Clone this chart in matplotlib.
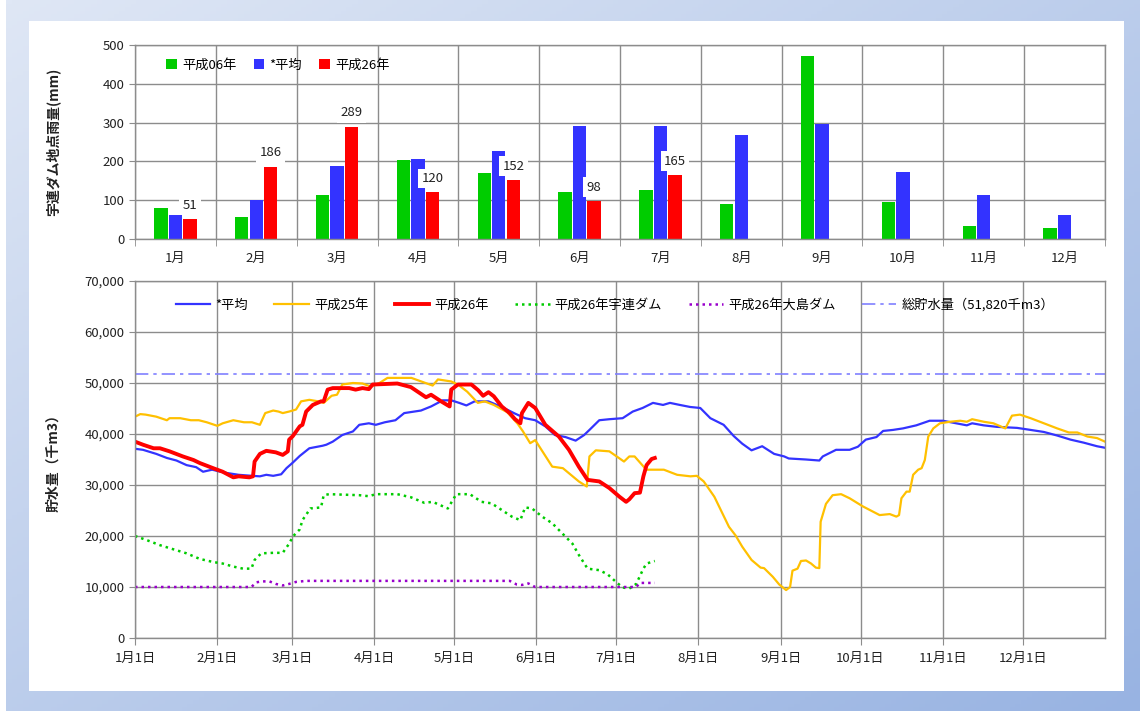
"""Uren dam: monthly rainfall (bars) and reservoir storage (lines) -> out.png"""

import matplotlib
matplotlib.use("Agg")
import matplotlib.pyplot as plt
import numpy as np
from matplotlib.patches import Rectangle
from matplotlib.ticker import FuncFormatter

plt.rcParams.update({"font.family": ["Noto Sans CJK JP", "DejaVu Sans"],
                     "axes.unicode_minus": False})

# ---- rainfall (mm) per month ----
MONTHS = ["1月", "2月", "3月", "4月", "5月", "6月", "7月", "8月", "9月", "10月", "11月", "12月"]
RAIN_H06 = [80, 56, 114, 203, 171, 121, 126, 90, 472, 95, 34, 29]
RAIN_AVG = [61, 100, 188, 207, 226, 291, 291, 269, 297, 172, 114, 62]
RAIN_H26 = [51, 186, 289, 120, 152, 98, 165]

# ---- storage (thousand m3), x = day of year (Jan 1 = 0) ----
AVG_DAY = [0, 3, 8, 12, 15.6, 19.4, 23, 25.6, 29, 34, 39, 44, 47, 49.4, 52, 55, 57, 59.4, 62, 65.6,
           70.6, 72, 74.4, 78, 82, 84.4, 88, 90.6, 94, 98, 101.3, 107.6, 111.4, 115.8, 119, 122,
           124.7, 127.8, 133, 138, 143, 146.8, 150.6, 154.4, 158, 162, 165.8, 169, 171, 174.7,
           178.5, 183.5, 187.3, 191, 194.9, 198.7, 201.3, 205, 208.9, 212.7, 216.5, 221.5, 225.3,
           228.5, 232, 236, 240.5, 244.3, 246, 252.5, 257.5, 258.8, 263.8, 268.9, 272, 275, 279,
           281.5, 285.2, 289, 294, 299, 304, 309, 313, 315, 319.3, 324.3, 331.9, 337, 342, 347,
           352, 357, 362, 365]
AVG_VAL = [37100, 36900, 36100, 35300, 34800, 33900, 33500, 32600, 33000, 32400, 32000, 31800,
           31700, 32000, 31800, 32100, 33300, 34400, 35700, 37200, 37700, 37900, 38500, 39800,
           40500, 41800, 42100, 41800, 42300, 42700, 44100, 44600, 45400, 46600, 46600, 46100,
           45600, 46400, 46400, 45300, 44000, 43100, 42700, 41500, 39800, 39400, 38700, 39800,
           40800, 42700, 42900, 43100, 44400, 45100, 46100, 45700, 46100, 45700, 45300, 45100,
           43100, 41800, 39600, 38100, 36800, 37600, 36100, 35600, 35200, 35000, 34800, 35600,
           36900, 36900, 37500, 38900, 39400, 40600, 40800, 41100, 41700, 42600, 42600, 42100,
           41700, 42100, 41700, 41400, 41200, 40800, 40400, 39700, 38900, 38300, 37600, 37300]

H25_DAY = [0, 2, 4, 8, 12, 13, 17, 21, 24, 27, 31, 33, 37, 41, 44, 47, 49, 52, 54, 55.6, 58, 60.6,
           62.5, 65.6, 69, 71, 74, 76, 78, 82, 85.6, 88.7, 92, 95, 104, 112, 114, 119, 121.5, 125,
           129, 131.6, 135, 140, 144, 146, 148.7, 150.6, 157, 161, 167, 170, 171, 173.4, 178.5,
           184, 186, 188, 192.4, 199, 204, 209, 211.4, 214, 218, 223.5, 226, 228.5, 232, 235.4,
           236.7, 240, 242.4, 245, 246.5, 247.4, 249.3, 250.6, 252.5, 254.4, 256.2, 257.5, 258,
           260, 262.5, 265.7, 268.9, 273.9, 280.2, 284, 286.5, 287.5, 288.4, 290.3, 291.5, 292.8,
           294.7, 296, 297.2, 298.5, 300.4, 302.9, 306.7, 310.5, 313, 315, 319.4, 323, 327.5, 330,
           333, 337, 342, 347, 351.4, 354.6, 358.4, 362, 365]
H25_VAL = [43400, 43900, 43800, 43400, 42700, 43100, 43100, 42700, 42700, 42300, 41600, 42100,
           42700, 42300, 42300, 41800, 44100, 44600, 44400, 44100, 44400, 44800, 46400, 46700,
           46400, 46100, 47500, 47700, 49700, 50000, 49900, 49300, 50000, 51000, 51000, 49500,
           50700, 50300, 49700, 48300, 46100, 46400, 45700, 44300, 42000, 40500, 38200, 38800,
           33600, 33300, 30700, 29700, 35600, 36800, 36600, 34600, 35600, 35600, 33000, 33000,
           32000, 31700, 31800, 30700, 27700, 21800, 20100, 17900, 15300, 13800, 13700, 12000,
           10500, 9400, 10000, 13200, 13600, 15100, 15200, 14600, 13800, 13700, 22800, 26300,
           28000, 28200, 27400, 25800, 24100, 24300, 23800, 24100, 27400, 28700, 28700, 32000,
           33000, 33300, 34900, 39500, 41100, 42100, 42400, 42600, 42400, 42900, 42400, 42100,
           41100, 43600, 43800, 43100, 42100, 41100, 40300, 40300, 39500, 39200, 38500]

H26_DAY = [0, 3, 7, 9.4, 13, 18, 22, 24.4, 29.4, 33, 37, 39, 43, 44.4, 45, 47, 49.4, 53, 55.6,
           57.5, 58, 59.4, 62, 63, 64.4, 66.9, 70, 71, 72.5, 74.4, 80.6, 83, 85.6, 88, 89.4, 98.7,
           103.8, 109.5, 111.4, 115.2, 118.4, 119, 121.5, 126.6, 129.1, 131, 133, 135, 138, 141,
           143, 145, 145.6, 148, 150.6, 154.4, 159.5, 163.3, 167, 170.3, 174.7, 178.5, 182.3,
           184.8, 186, 188, 190, 191.3, 192.5, 194.4, 195.6]
H26_VAL = [38500, 37900, 37200, 37200, 36600, 35600, 34900, 34300, 33300, 32600, 31500, 31700,
           31500, 31700, 34600, 36100, 36700, 36400, 35900, 36600, 38900, 39600, 41500, 41800,
           44400, 45700, 46400, 46400, 48700, 49000, 49000, 48700, 49000, 48800, 49700, 49900,
           49200, 47200, 47700, 46400, 45400, 48700, 49700, 49700, 48600, 47500, 48200, 47400,
           45400, 44100, 42900, 42100, 44100, 46100, 45100, 41800, 39500, 36900, 33600, 31000,
           30700, 29400, 27700, 26700, 27200, 28400, 28500, 31700, 33900, 35100, 35300]

UREN_DAY = [0, 4.4, 9.4, 14.4, 19.4, 24.4, 29.4, 33, 37, 40.6, 43.8, 45, 47.5, 52, 55.6, 58, 59.4,
            62, 63, 66, 70, 71, 73, 84.4, 88, 90.6, 98.7, 103.8, 108.9, 112, 117.7, 120.9, 126,
            130.4, 134.2, 138, 141.8, 145, 146.8, 149.4, 153.2, 157, 160.8, 164.6, 167, 170.3,
            174.7, 177.8, 181, 183.5, 186, 188.6, 191.3, 192.5, 195.6]
UREN_VAL = [20000, 19200, 18200, 17400, 16600, 15500, 14900, 14600, 14000, 13600, 13600, 15300,
            16600, 16700, 16700, 18500, 19900, 21300, 23100, 25400, 25600, 28000, 28200, 28000,
            27800, 28200, 28200, 27600, 26500, 26700, 25400, 28200, 28200, 26700, 26400, 25100,
            23800, 23100, 25600, 25400, 23800, 22500, 20500, 18500, 16300, 13600, 13300, 12500,
            11000, 9900, 9700, 10600, 13600, 14600, 15100]

OSHIMA_DAY = [0, 43.8, 45.6, 47.5, 50.6, 53, 55.6, 58, 60.6, 64.4, 141, 143.6, 145.6, 148, 150.6,
              188.6, 190, 195.6]
OSHIMA_VAL = [10000, 10000, 10900, 11100, 11100, 10600, 10300, 10600, 11000, 11200, 11200, 10500,
              10400, 10700, 10000, 10000, 10800, 10800]

CAPACITY = 51820
MONTH_START = [0, 31, 59, 90, 120, 151, 181, 212, 243, 273, 304, 334]
DATE_LABELS = [f"{m}月1日" for m in range(1, 13)]

GRID = "#8c8c8c"
TICK = "#222222"

W, H = 1140, 711
fig = plt.figure(figsize=(W / 100, H / 100), dpi=100)

# background: diagonal blue gradient frame + white panel
bg = fig.add_axes([6 / W, 0, 1 - 6 / W, 1], zorder=-10)
gx, gy = np.meshgrid(np.linspace(0, 1, 200), np.linspace(0, 1, 200))
t = (gx + gy) / 2
c0 = np.array([0xDF, 0xE7, 0xF5]) / 255
c1 = np.array([0x98, 0xB3, 0xE2]) / 255
img = c0[None, None, :] * (1 - t[..., None]) + c1[None, None, :] * t[..., None]
bg.imshow(img, aspect="auto", extent=[0, 1, 1, 0])
bg.set_xlim(0, 1); bg.set_ylim(1, 0)
bg.set_axis_off()
fig.patches.append(Rectangle((29 / W, 1 - 691 / H), (1124 - 29) / W, (691 - 21) / H,
                             transform=fig.transFigure, facecolor="white", edgecolor="none",
                             zorder=-5))


def style_axes(ax):
    for s in ax.spines.values():
        s.set_color(GRID); s.set_linewidth(1.0)
    ax.tick_params(colors=GRID, labelcolor=TICK, labelsize=9.5, length=4)
    ax.set_axisbelow(True)


# ---------------- rainfall bars ----------------
ax1 = fig.add_axes([135 / W, 1 - 239 / H, 970 / W, 194 / H])
style_axes(ax1)
x = np.arange(len(MONTHS))
bw, off = 0.165, 0.18
ax1.bar(x - off, RAIN_H06, bw, color="#00CC00", label="平成06年")
ax1.bar(x, RAIN_AVG, bw, color="#3333FF", label="*平均")
x26 = x[:len(RAIN_H26)]
ax1.bar(x26 + off, RAIN_H26, bw, color="#FF0000", label="平成26年")
for xi, v in zip(x26 + off, RAIN_H26):
    ax1.annotate(f"{v}", (xi, v), xytext=(0, 10), textcoords="offset points",
                 ha="center", va="center", fontsize=9.5, color=TICK, zorder=5,
                 bbox=dict(boxstyle="square,pad=0.25", fc="white", ec="none"))
ax1.set_xlim(-0.5, len(MONTHS) - 0.5)
ax1.set_ylim(0, 500)
ax1.set_yticks(range(0, 501, 100))
ax1.set_xticks(x)
ax1.set_xticklabels(MONTHS)
ax1.set_xticks(np.arange(-0.5, len(MONTHS), 1), minor=True)
ax1.tick_params(axis="x", which="major", length=0, pad=9)
ax1.tick_params(axis="x", which="minor", length=5, colors=GRID)
ax1.grid(axis="y", color=GRID, lw=1.0)
ax1.grid(axis="x", which="minor", color=GRID, lw=1.0)
ax1.set_ylabel("宇連ダム地点雨量(mm)", fontsize=10, fontweight="bold", color=TICK)
ax1.yaxis.set_label_coords(-0.077, 0.5)
ax1.legend(loc="upper left", bbox_to_anchor=(0.02, 0.99), ncol=3, frameon=False, fontsize=9.5,
           handlelength=0.8, handleheight=0.8, handletextpad=0.4, columnspacing=1.3)

# ---------------- storage lines ----------------
ax2 = fig.add_axes([135 / W, 1 - 638 / H, 970 / W, 357 / H])
style_axes(ax2)
ax2.plot(AVG_DAY, AVG_VAL, color="#3333FF", lw=1.6, label="*平均")
ax2.plot(H25_DAY, H25_VAL, color="#FFC000", lw=1.6, label="平成25年")
ax2.plot(H26_DAY, H26_VAL, color="#FF0000", lw=2.8, label="平成26年")
ax2.plot(UREN_DAY, UREN_VAL, color="#00CC00", lw=1.8, ls=(0, (1, 1.6)), label="平成26年宇連ダム")
ax2.plot(OSHIMA_DAY, OSHIMA_VAL, color="#9900CC", lw=1.8, ls=(0, (1, 1.6)), label="平成26年大島ダム")
ax2.axhline(CAPACITY, color="#8080FF", lw=1.2, ls=(0, (8, 3, 2, 3)), label="総貯水量（51,820千m3）")
ax2.set_xlim(0, 365)
ax2.set_ylim(0, 70000)
ax2.set_yticks(range(0, 70001, 10000))
ax2.yaxis.set_major_formatter(FuncFormatter(lambda v, _: f"{int(v):,}"))
ax2.set_xticks(MONTH_START)
ax2.set_xticklabels(DATE_LABELS)
ax2.tick_params(axis="x", length=5, pad=5)
ax2.grid(color=GRID, lw=1.0)
ax2.set_ylabel("貯水量（千m3）", fontsize=10, fontweight="bold", color=TICK)
ax2.yaxis.set_label_coords(-0.077, 0.5)
ax2.legend(loc="center", bbox_to_anchor=(0.495, 0.933), ncol=6, frameon=False, fontsize=9.5,
           handlelength=2.6, handletextpad=0.4, columnspacing=2.0)

fig.savefig("out.png", dpi=100)
